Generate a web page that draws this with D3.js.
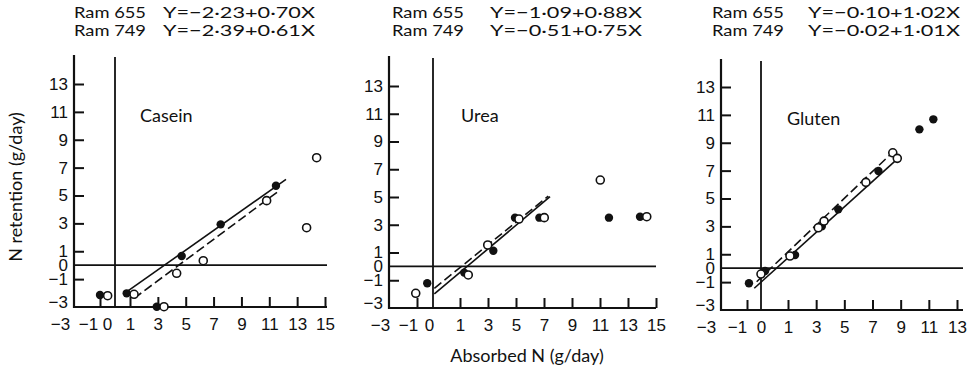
<!DOCTYPE html>
<html>
<head>
<meta charset="utf-8">
<script src="https://cdn.jsdelivr.net/npm/d3@7"></script>
<style>
  body { margin: 0; background: #fff; }
  svg { display: block; font-family: Lato, 'Open Sans', sans-serif; }
  .tick line { stroke: #111; stroke-width: 2; }
  .tick text { fill: #111; }
</style>
</head>
<body>
<svg id="chart" width="969" height="368"></svg>
<script>
/* global d3 */
const panelNames = ['Casein', 'Urea', 'Gluten']
const ramLabels = ['Ram 655', 'Ram 749']
const equations = [
  ['Y=−2·23+0·70X', 'Y=−2·39+0·61X'],
  ['Y=−1·09+0·88X', 'Y=−0·51+0·75X'],
  ['Y=−0·10+1·02X', 'Y=−0·02+1·01X']
]
const yTicks = [-3, -1, 0, 1, 3, 5, 7, 9, 11, 13]
const xTicksLong = [-3, -1, 0, 1, 3, 5, 7, 9, 11, 13, 15]
const xTicksShort = [-3, -1, 0, 1, 3, 5, 7, 9, 11, 13]

// ram 655 = filled dots, ram 749 = open dots  [absorbed N, N retention]
const casein655 = [[-1.0, -2.14], [0.78, -2.02], [2.92, -2.98], [4.71, 0.66], [7.51, 2.93], [11.48, 5.70]]
const casein749 = [[-0.49, -2.19], [1.29, -2.09], [3.44, -2.98], [4.35, -0.58], [6.26, 0.32], [10.81, 4.63], [13.68, 2.69], [14.4, 7.71]]
const urea655 = [[-0.36, -1.22], [1.3, -0.45], [3.38, 1.13], [4.93, 3.51], [6.67, 3.51], [11.64, 3.51], [13.86, 3.58]]
const urea749 = [[-1.09, -1.94], [1.59, -0.62], [2.98, 1.54], [5.21, 3.41], [7.02, 3.51], [11.02, 6.22], [14.34, 3.58]]
const gluten655 = [[-0.86, -1.08], [0.15, -0.2], [1.5, 0.95], [3.4, 3.0], [4.57, 4.22], [7.42, 6.97], [10.33, 9.96], [11.32, 10.68]]
const gluten749 = [[0, -0.42], [1.14, 0.87], [3.15, 2.9], [3.56, 3.38], [6.53, 6.16], [8.44, 8.28], [8.76, 7.88]]

// fitted lines, end points as drawn (solid = 655, dashed = 749)
const casein655Fit = [[0.89, -1.83], [12.2, 6.16]]
const casein749Fit = [[1.29, -2.38], [11.77, 5.39]]
const urea655Fit = [[0.05, -1.99], [7.43, 5.02]]
const urea749Fit = [[0.05, -1.58], [7.31, 5.07]]
const gluten655Fit = [[-0.48, -1.44], [8.95, 8.0]]
const gluten749Fit = [[-0.31, -0.97], [8.48, 8.36]]

// the printed axes are not quite even near zero, so x is piecewise
const panels = [
  {
    filled: casein655, open: casein749, fits: [casein655Fit, casein749Fit], xTicks: xTicksLong,
    xDomain: [-3, -1, 0, 1, 15], xRange: [74, 100, 115, 130, 325], yRange: [307, 84],
    top: 55, right: 327, eqX: [74, 163], titleX: 140, titleY: 122,
    labelShift: { '-3': -14, '-1': -12, 0: -8 }
  },
  {
    filled: urea655, open: urea749, fits: [urea655Fit, urea749Fit], xTicks: xTicksLong,
    xDomain: [-3, -1, 0, 1, 15], xRange: [389, 417, 433, 460, 656], yRange: [308, 86],
    top: 56, right: 656, eqX: [392, 490], titleX: 461, titleY: 122,
    labelShift: { '-3': -9, '-1': -9, 0: -4 }
  },
  {
    filled: gluten655, open: gluten749, fits: [gluten655Fit, gluten749Fit], xTicks: xTicksShort,
    xDomain: [-3, -1, 0, 1, 13], xRange: [721, 747, 761, 788, 957], yRange: [310, 87],
    top: 59, right: 963, eqX: [712, 808], titleX: 787, titleY: 125,
    labelShift: { '-3': -15, '-1': -10, 0: 0 }
  }
]

const fmt = (d) => d < 0 ? '−' + Math.abs(d) : String(d)

const svg = d3.select('#chart')
svg.append('rect').attr('width', 969).attr('height', 368).attr('fill', '#fff')

panels.forEach((p, i) => {
  const x = d3.scaleLinear().domain(p.xDomain).range(p.xRange)
  const y = d3.scaleLinear().domain([-3, 13]).range(p.yRange)
  const g = svg.append('g')
  const x0 = x(-3)
  const y0 = y(-3)

  // header equations
  ramLabels.forEach((lab, j) => {
    g.append('text')
      .attr('x', p.eqX[0]).attr('y', 18 + j * 18)
      .attr('font-size', 15).attr('fill', '#111')
      .attr('textLength', 72).attr('lengthAdjust', 'spacingAndGlyphs')
      .text(lab)
    g.append('text')
      .attr('x', p.eqX[1]).attr('y', 18 + j * 18)
      .attr('font-size', 15).attr('fill', '#111')
      .attr('textLength', 152).attr('lengthAdjust', 'spacingAndGlyphs')
      .text(equations[i][j])
  })

  // y axis ticks + labels
  g.append('g')
    .attr('transform', `translate(${x0},0)`)
    .call(d3.axisLeft(y).tickValues(yTicks).tickSizeInner(-10).tickSizeOuter(0).tickPadding(6).tickFormat(fmt))
    .call(a => a.select('.domain').remove())
    .call(a => a.selectAll('.tick').filter(d => d === 0 || d === -3).select('line').remove())
    .call(a => a.selectAll('.tick text').attr('font-size', 17).filter(d => d === -3).attr('dy', '0.05em'))

  // x axis ticks + labels
  g.append('g')
    .attr('transform', `translate(0,${y0})`)
    .call(d3.axisBottom(x).tickValues(p.xTicks).tickSizeInner(-10).tickSizeOuter(0).tickPadding(11).tickFormat(fmt))
    .call(a => a.select('.domain').remove())
    .call(a => a.selectAll('.tick').filter(d => d === 0 || d === -3).select('line').remove())
    .call(a => a.selectAll('.tick text').attr('font-size', 17).attr('dx', d => p.labelShift[d] || 0))

  // frame: left + bottom axes, zero lines
  g.append('line').attr('x1', x0).attr('x2', x0).attr('y1', p.top).attr('y2', y0 + 1)
    .attr('stroke', '#111').attr('stroke-width', 2.2)
  g.append('line').attr('x1', x0 - 1).attr('x2', p.right).attr('y1', y0).attr('y2', y0)
    .attr('stroke', '#111').attr('stroke-width', 2.2)
  g.append('line').attr('x1', x(0)).attr('x2', x(0)).attr('y1', p.top + 2).attr('y2', y0)
    .attr('stroke', '#111').attr('stroke-width', 1.8)
  g.append('line').attr('x1', x0).attr('x2', p.right).attr('y1', y(0)).attr('y2', y(0))
    .attr('stroke', '#111').attr('stroke-width', 1.8)

  // title
  g.append('text').attr('x', p.titleX).attr('y', p.titleY)
    .attr('font-size', 18).attr('fill', '#111').text(panelNames[i])

  // fitted lines
  const line = d3.line().x(d => x(d[0])).y(d => y(d[1]))
  g.append('path').datum(p.fits[0]).attr('d', line)
    .attr('fill', 'none').attr('stroke', '#111').attr('stroke-width', 1.6)
  g.append('path').datum(p.fits[1]).attr('d', line)
    .attr('fill', 'none').attr('stroke', '#111').attr('stroke-width', 1.6).attr('stroke-dasharray', '9,4')

  // points
  g.selectAll('.dot-filled').data(p.filled).enter().append('circle')
    .attr('cx', d => x(d[0])).attr('cy', d => y(d[1])).attr('r', 4.2)
    .attr('fill', '#111')
  g.selectAll('.dot-open').data(p.open).enter().append('circle')
    .attr('cx', d => x(d[0])).attr('cy', d => y(d[1])).attr('r', 4)
    .attr('fill', '#fff').attr('stroke', '#111').attr('stroke-width', 1.6)
})

// axis titles
svg.append('text')
  .attr('transform', 'translate(22,187) rotate(-90)')
  .attr('text-anchor', 'middle').attr('font-size', 18).attr('fill', '#111')
  .text('N retention (g/day)')
svg.append('text')
  .attr('x', 527).attr('y', 362)
  .attr('text-anchor', 'middle').attr('font-size', 18).attr('fill', '#111')
  .text('Absorbed N (g/day)')
</script>
</body>
</html>
